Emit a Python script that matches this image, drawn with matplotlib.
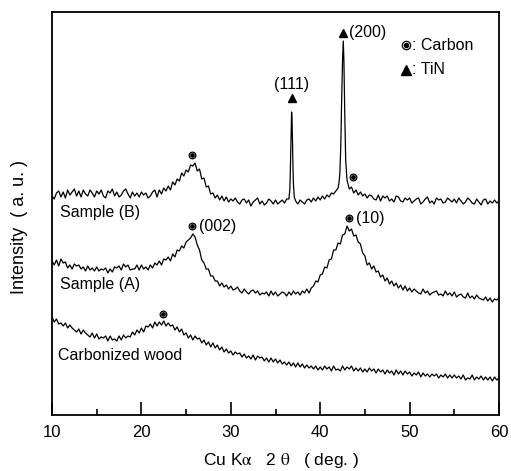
import numpy as np
import matplotlib
matplotlib.use("Agg")
from matplotlib import pyplot as plt

plt.rcParams['font.family'] = ['Liberation Sans', 'DejaVu Sans']
plt.rcParams['mathtext.fontset'] = 'stix'

# 2-theta grid (deg), 0.25 deg steps from 10 to 60
two_theta = np.arange(10, 60.001, 0.25)

# intensities (arbitrary units)
sample_b = [
    219, 216, 222, 224, 218, 223, 217, 225, 220, 223, 226, 219, 224, 218, 225, 221, 219, 225, 222, 218,
    224, 221, 225, 219, 217, 224, 222, 226, 219, 223, 218, 220, 224, 226, 221, 217, 223, 219, 222, 218,
    223, 220, 222, 217, 219, 223, 225, 218, 225, 221, 227, 224, 229, 225, 233, 230, 236, 234, 242, 239,
    245, 243, 250, 249, 252, 244, 246, 236, 237, 228, 229, 221, 222, 217, 220, 215, 219, 214, 218, 213,
    216, 214, 217, 213, 211, 215, 216, 212, 215, 209, 213, 215, 217, 211, 214, 210, 212, 216, 214, 211,
    215, 211, 213, 215, 212, 216, 216, 285, 232, 214, 211, 215, 213, 211, 215, 216, 213, 217, 214, 218,
    215, 219, 216, 220, 218, 222, 221, 224, 227, 255, 355, 300, 235, 226, 228, 222, 225, 220, 223, 219,
    221, 217, 220, 219, 216, 215, 220, 214, 219, 217, 219, 214, 216, 213, 219, 218, 214, 213, 217, 215,
    217, 212, 214, 216, 217, 211, 213, 216, 218, 212, 214, 211, 217, 215, 216, 212, 213, 217, 215, 213,
    216, 212, 217, 214, 211, 213, 217, 215, 212, 211, 216, 213, 210, 215, 216, 211, 214, 212, 215, 212,
    214,
]
# extra readings on the sharp TiN peaks of sample B
b_peak_x = [36.6, 36.65, 36.7, 36.8, 36.85, 36.9, 36.95, 37.1,
            42.1, 42.2, 42.3, 42.4, 42.58, 42.65, 42.85]
b_peak_y = [225, 240, 262, 303, 295, 275, 250, 218,
            232, 242, 268, 315, 374, 355, 255]

sample_a = [
    154, 150, 155, 149, 156, 152, 153, 147, 150, 146, 151, 149, 150, 146, 148, 144, 149, 145, 147, 144,
    148, 144, 146, 145, 147, 142, 146, 143, 148, 147, 149, 145, 151, 148, 150, 145, 146, 146, 150, 145,
    150, 146, 148, 145, 150, 147, 152, 150, 154, 150, 156, 155, 158, 154, 161, 158, 165, 164, 169, 167,
    173, 175, 177, 181, 178, 170, 165, 155, 152, 146, 146, 139, 139, 134, 134, 129, 132, 128, 130, 126,
    129, 125, 126, 128, 124, 122, 126, 123, 121, 124, 125, 122, 124, 120, 122, 121, 123, 119, 124, 120,
    123, 119, 121, 123, 122, 119, 123, 120, 124, 121, 123, 120, 124, 122, 126, 122, 127, 129, 134, 133,
    140, 141, 148, 147, 155, 156, 165, 165, 172, 171, 180, 181, 189, 184, 186, 179, 180, 173, 171, 162,
    159, 150, 152, 146, 149, 143, 144, 138, 140, 134, 137, 131, 134, 129, 132, 127, 130, 125, 129, 124,
    127, 123, 126, 124, 122, 121, 126, 122, 124, 120, 122, 123, 124, 120, 121, 119, 124, 120, 122, 119,
    123, 118, 120, 121, 118, 117, 122, 117, 119, 116, 120, 117, 116, 115, 118, 114, 117, 113, 116, 115,
    117,
]

carbonized_wood = [
    98, 93, 96, 91, 92, 89, 92, 87, 90, 87, 85, 83, 86, 81, 85, 82, 80, 78, 82, 77,
    81, 76, 78, 77, 79, 74, 79, 75, 76, 74, 79, 75, 80, 77, 79, 78, 83, 80, 85, 82,
    87, 83, 89, 88, 91, 87, 93, 89, 93, 90, 94, 89, 92, 89, 90, 85, 88, 83, 86, 80,
    82, 77, 80, 75, 79, 76, 77, 72, 75, 70, 73, 68, 72, 67, 70, 65, 68, 63, 66, 62,
    64, 60, 63, 61, 62, 58, 61, 57, 59, 56, 60, 55, 59, 57, 58, 54, 57, 53, 57, 53,
    56, 52, 55, 51, 53, 50, 53, 49, 52, 48, 52, 48, 51, 47, 50, 47, 49, 46, 49, 45,
    48, 45, 49, 46, 48, 44, 49, 45, 46, 44, 49, 45, 48, 46, 49, 44, 47, 44, 47, 43,
    46, 43, 47, 44, 46, 42, 46, 43, 45, 41, 45, 42, 44, 40, 45, 41, 44, 40, 44, 41,
    43, 39, 42, 40, 43, 38, 42, 39, 41, 38, 41, 39, 41, 37, 40, 38, 41, 37, 40, 37,
    40, 37, 39, 36, 40, 35, 37, 36, 40, 35, 38, 36, 39, 35, 38, 35, 38, 34, 38, 35,
    37,
]

# peak marks: (2theta, intensity, label)
carbon_marks = [(25.63, 260, ''), (43.63, 238, ''), (25.63, 189, '(002)'),
                (43.26, 197, '(10)'), (22.45, 101, '')]
tin_marks = [(36.85, 317, '(111)'), (42.58, 382, '(200)')]

# merge sample B grid with peak readings
bx = np.concatenate([two_theta, b_peak_x])
by = np.concatenate([sample_b, b_peak_y])
order = np.argsort(bx)
bx, by = bx[order], by[order]

fig = plt.figure(figsize=(5.11, 4.71), dpi=100)
ax = fig.add_axes([52/511, 56/471, 447/511, 403/471])

ax.plot(bx, by, color='black', lw=0.9)
ax.plot(two_theta, sample_a, color='black', lw=0.9)
ax.plot(two_theta, carbonized_wood, color='black', lw=0.9)

def carbon_marker(x, y, size=4.8):
    ax.plot(x, y, 'o', ms=size, mfc='white', mec='black', mew=0.9)
    ax.plot(x, y, 'o', ms=size*0.5, color='black')

for x, y, lab in carbon_marks:
    carbon_marker(x, y)
    if lab:
        ax.text(x + 0.8, y, lab, fontsize=11.5, va='center', ha='left')

ax.plot(tin_marks[0][0], tin_marks[0][1], '^', ms=5.5, color='black')
ax.text(tin_marks[0][0], tin_marks[0][1] + 13, tin_marks[0][2], fontsize=11.5,
        ha='center', va='center')
ax.plot(tin_marks[1][0], tin_marks[1][1], '^', ms=5.5, color='black')
ax.text(tin_marks[1][0] + 0.62, tin_marks[1][1], tin_marks[1][2], fontsize=11.5,
        ha='left', va='center')

# legend box
carbon_marker(49.62, 370, size=6)
ax.text(50.3, 370, ': Carbon', fontsize=11.5, va='center', ha='left')
ax.plot(49.55, 345, '^', ms=7, color='black')
ax.text(50.3, 345, ': TiN', fontsize=11.5, va='center', ha='left')

ax.text(10.9, 203, 'Sample (B)', fontsize=11.5, va='center', ha='left')
ax.text(10.9, 130, 'Sample (A)', fontsize=11.5, va='center', ha='left')
ax.text(10.7, 60, 'Carbonized wood', fontsize=11.5, va='center', ha='left')

ax.set_xlim(10, 60)
ax.set_ylim(0, 403)
ax.set_xticks([10, 20, 30, 40, 50, 60])
ax.set_xticks([15, 25, 35, 45, 55], minor=True)
ax.set_yticks([])
ax.tick_params(axis='x', which='major', direction='in', length=9.5, width=1.2,
               labelsize=12, pad=7)
ax.tick_params(axis='x', which='minor', direction='in', length=4.5, width=1.2)
for s in ax.spines.values():
    s.set_linewidth(1.3)

fig.text(281.5/511, 6/471, r'Cu K$\mathrm{\alpha}$   2 $\mathrm{\theta}$   ( deg. )',
         fontsize=12.5, ha='center', va='baseline')
fig.text(20/511, 1 - 227/471, 'Intensity  ( a. u. )', fontsize=13, rotation=90,
         ha='center', va='center')

fig.savefig('out.png', dpi=100)
